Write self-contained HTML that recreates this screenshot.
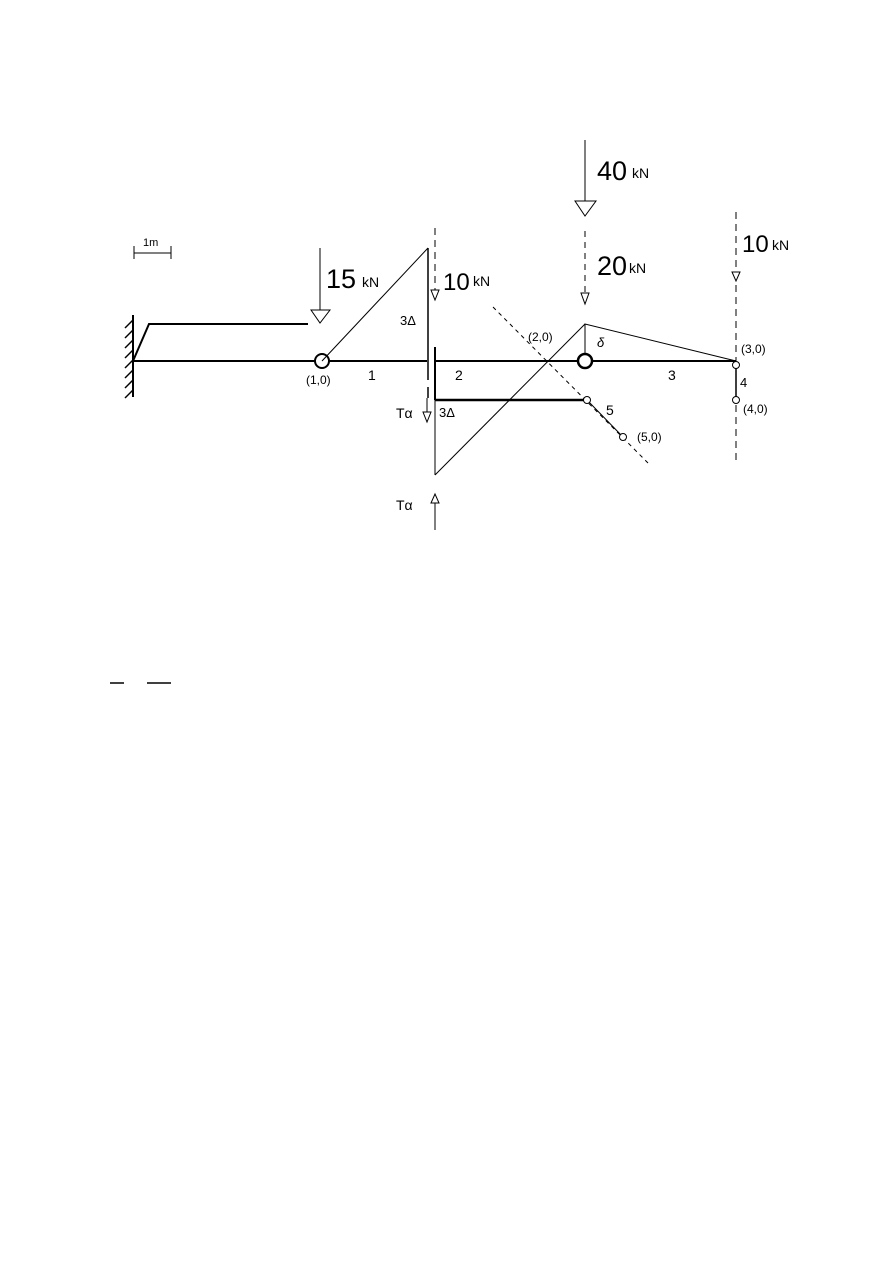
<!DOCTYPE html>
<html><head><style>body{margin:0;background:#fff}svg{display:block}</style></head><body>
<svg width="893" height="1263" viewBox="0 0 893 1263" xmlns="http://www.w3.org/2000/svg" font-family="Liberation Sans, sans-serif">
<g stroke="#000" fill="none">
<!-- scale -->
<line x1="134" y1="253" x2="171" y2="253" stroke-width="1"/>
<line x1="134" y1="246" x2="134" y2="259"/><line x1="171" y1="246" x2="171" y2="259"/>
<!-- wall -->
<line x1="133" y1="315" x2="133" y2="397" stroke-width="2"/>
<g stroke-width="1.5"><line x1="133" y1="320" x2="125" y2="328"/><line x1="133" y1="330" x2="125" y2="338"/><line x1="133" y1="340" x2="125" y2="348"/><line x1="133" y1="350" x2="125" y2="358"/><line x1="133" y1="360" x2="125" y2="368"/><line x1="133" y1="370" x2="125" y2="378"/><line x1="133" y1="380" x2="125" y2="388"/><line x1="133" y1="390" x2="125" y2="398"/></g>
<!-- beam -->
<line x1="133" y1="361" x2="315" y2="361" stroke-width="2"/>
<line x1="329" y1="361" x2="427" y2="361" stroke-width="2"/>
<line x1="435" y1="361" x2="578" y2="361" stroke-width="2"/>
<line x1="592" y1="361" x2="736" y2="361" stroke-width="2"/>
<circle cx="322" cy="361" r="7" stroke-width="2"/>
<circle cx="585" cy="361" r="7" stroke-width="2.5"/>
<!-- top deflected -->
<polyline points="133,361 149,324 308,324" stroke-width="2"/>
<!-- 15kN -->
<line x1="320" y1="248" x2="320" y2="310"/>
<polygon points="311,310 330,310 320,323"/>
<!-- slanted -->
<line x1="322" y1="361" x2="428" y2="248"/>
<line x1="428" y1="248" x2="428" y2="380" stroke-width="1.5"/>
<line x1="428" y1="387" x2="428" y2="398" stroke-width="1.5"/>
<line x1="435" y1="347" x2="435" y2="400" stroke-width="2"/>
<line x1="435" y1="400" x2="435" y2="475"/>
<line x1="435" y1="475" x2="585" y2="324"/>
<line x1="435" y1="400" x2="587" y2="400" stroke-width="2.5"/>
<!-- 10kN dashed -->
<line x1="435" y1="228" x2="435" y2="290" stroke-dasharray="7,5"/>
<polygon points="431,290 439,290 435,300"/>
<!-- T alpha down -->
<line x1="427" y1="398" x2="427" y2="412"/>
<polygon points="423,412 431,412 427,422"/>
<!-- T alpha up -->
<line x1="435" y1="503" x2="435" y2="530"/>
<polygon points="431,503 439,503 435,494"/>
<!-- 40kN -->
<line x1="585" y1="140" x2="585" y2="201"/>
<polygon points="575,201 596,201 585,216"/>
<!-- 20kN -->
<line x1="585" y1="231" x2="585" y2="293" stroke-dasharray="6,5"/>
<polygon points="581,293 589,293 585,304"/>
<!-- peak -->
<polyline points="585,354 585,324 736,361"/>
<!-- right dashed -->
<line x1="736" y1="212" x2="736" y2="272" stroke-dasharray="7,5"/>
<polygon points="732,272 740,272 736,281"/>
<line x1="736" y1="285" x2="736" y2="465" stroke-dasharray="7,5"/>
<line x1="736" y1="365" x2="736" y2="400" stroke-width="1.5"/>
<circle cx="736" cy="365" r="3.5" fill="#fff"/>
<circle cx="736" cy="400" r="3.5" fill="#fff"/>
<!-- dashed diagonal -->
<line x1="493" y1="307" x2="648" y2="463" stroke-dasharray="4,4"/>
<line x1="587" y1="400" x2="623" y2="437"/>
<circle cx="587" cy="400" r="3.5" fill="#fff"/>
<circle cx="623" cy="437" r="3.5" fill="#fff"/>
<!-- bottom marks -->
<line x1="110" y1="683" x2="124" y2="683" stroke-width="1.5"/>
<line x1="147" y1="683" x2="171" y2="683" stroke-width="1.5"/>
</g>
<g fill="#000">
<text x="143" y="246" font-size="11">1m</text>
<text x="326" y="288" font-size="27" font-weight="300">15</text><text x="362" y="287" font-size="14">kN</text>
<text x="443" y="290" font-size="24">10</text><text x="473" y="286" font-size="14">kN</text>
<text x="597" y="180" font-size="27">40</text><text x="632" y="178" font-size="14">kN</text>
<text x="597" y="275" font-size="27">20</text><text x="629" y="273" font-size="14">kN</text>
<text x="742" y="252" font-size="24">10</text><text x="772" y="250" font-size="14">kN</text>
<text x="400" y="325" font-size="13">3Δ</text>
<text x="439" y="417" font-size="13">3Δ</text>
<text x="396" y="418" font-size="14">Tα</text>
<text x="396" y="510" font-size="14">Tα</text>
<text x="306" y="384" font-size="12">(1,0)</text>
<text x="368" y="380" font-size="14">1</text>
<text x="455" y="380" font-size="14">2</text>
<text x="668" y="380" font-size="14">3</text>
<text x="740" y="387" font-size="13">4</text>
<text x="606" y="415" font-size="14">5</text>
<text x="528" y="341" font-size="12">(2,0)</text>
<text x="597" y="347" font-size="13" font-style="italic">δ</text>
<text x="741" y="353" font-size="12">(3,0)</text>
<text x="743" y="413" font-size="12">(4,0)</text>
<text x="637" y="441" font-size="12">(5,0)</text>
</g>
</svg>
</body></html>
